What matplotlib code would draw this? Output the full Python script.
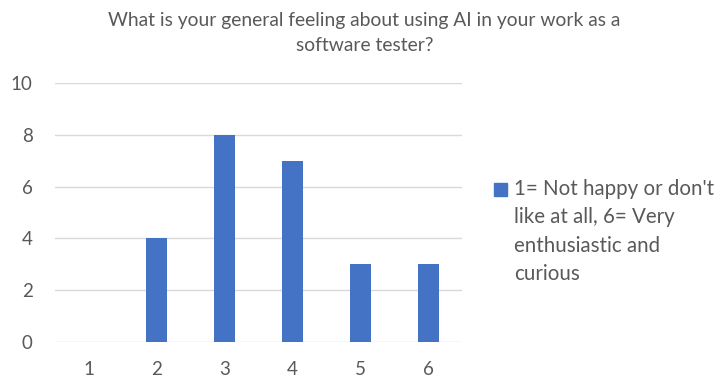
import matplotlib
matplotlib.use("Agg")
import matplotlib.pyplot as plt
from matplotlib.legend_handler import HandlerPatch
from matplotlib.patches import Rectangle

# Survey results: rating (1-6) and number of respondents
ratings = ["1", "2", "3", "4", "5", "6"]
counts = [0, 4, 8, 7, 3, 3]
y_ticks = [0, 2, 4, 6, 8, 10]
series_label = "1= Not happy or don't\nlike at all, 6= Very\nenthusiastic and\ncurious"
title = "What is your general feeling about using AI in your work as a\nsoftware tester?"

BAR_COLOR = "#4472C4"
TEXT_COLOR = "#595959"
GRID_COLOR = "#D9D9D9"
FONT = ["Lato", "DejaVu Sans"]
LEG_SIZE = 14.8
LEG_SPACING = 1.53

plt.rcParams["font.family"] = FONT

fig = plt.figure(figsize=(7.2, 3.83), dpi=100)
ax = fig.add_axes([0.0764, 0.107, 0.5653, 0.676])

x = list(range(len(ratings)))
ax.bar(x, counts, width=0.31, color=BAR_COLOR, zorder=3)

ax.set_xlim(-0.5, len(ratings) - 0.5)
ax.set_ylim(0, 10)
ax.set_yticks(y_ticks)
ax.set_xticks(x)
ax.set_xticklabels(ratings)
ax.tick_params(axis="both", length=0, labelsize=13.5, labelcolor=TEXT_COLOR)
ax.tick_params(axis="y", pad=16)
ax.tick_params(axis="x", pad=14)
ax.yaxis.grid(True, color=GRID_COLOR, linewidth=1.0, zorder=0)
for s in ax.spines.values():
    s.set_visible(False)

# two-line chart title, last line's baseline given
fig.text(0.506, 1 - 51 / 383, title, ha="center", va="baseline",
         fontsize=13.9, color=TEXT_COLOR, linespacing=1.55,
         multialignment="center")


def top_square(legend, orig_handle, xdescent, ydescent, width, height, fontsize):
    # swatch sits beside the first line of the multi-line label
    side = 0.63 * fontsize
    y0 = 2.14 * fontsize
    return Rectangle((-xdescent, y0), side, side)


swatch = Rectangle((0, 0), 1, 1, color=BAR_COLOR)
leg = fig.legend([swatch], [series_label], loc="upper left",
                 bbox_to_anchor=(494 / 720, 1 - 179 / 383), frameon=False,
                 fontsize=LEG_SIZE, labelcolor=TEXT_COLOR, handlelength=0.63,
                 handletextpad=0.34, borderpad=0, borderaxespad=0,
                 handler_map={Rectangle: HandlerPatch(patch_func=top_square)})
for t in leg.get_texts():
    t.set_linespacing(LEG_SPACING)

fig.savefig("out.png", dpi=100)
